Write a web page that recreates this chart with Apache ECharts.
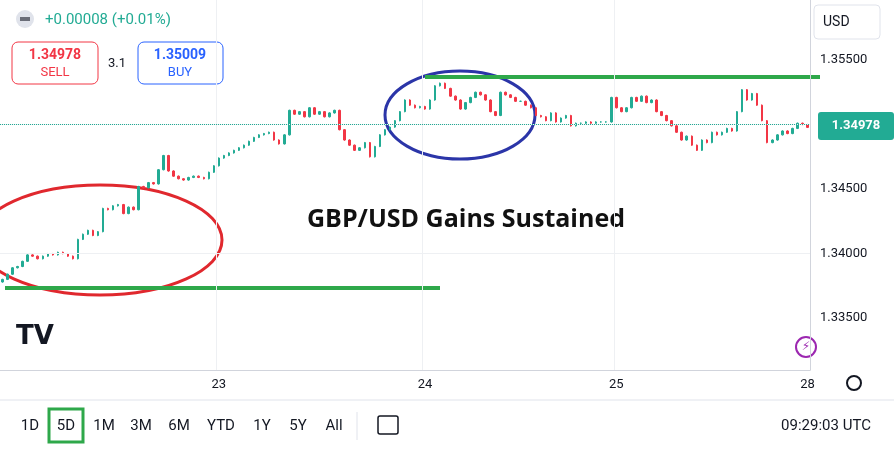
<!DOCTYPE html>
<html><head><meta charset="utf-8">
<script src="https://cdn.jsdelivr.net/npm/echarts@6/dist/echarts.min.js"></script>
<style>html,body{margin:0;padding:0;background:#fff}#c{width:894px;height:450px}</style>
</head><body><div id="c"></div>
<script>
const firstOpen = 1.3378;
const closes = [1.3380,1.3384,1.3389,1.3390,1.3394,1.3399,1.3398,1.3396,1.3398,1.3400,
1.3399,1.3401,1.3400,1.3398,1.3396,1.3411,1.3415,1.3418,1.3414,1.3417,
1.3435,1.3434,1.3437,1.3438,1.3431,1.3436,1.3434,1.3452,1.3451,1.3455,
1.3454,1.3465,1.3476,1.3464,1.3460,1.3458,1.3457,1.3459,1.3460,1.3459,
1.3458,1.3463,1.3468,1.3474,1.3476,1.3478,1.3480,1.3482,1.3484,1.3487,
1.3490,1.3492,1.3493,1.3494,1.3488,1.3485,1.3492,1.3511,1.3508,1.3510,
1.3506,1.3513,1.3508,1.3510,1.3506,1.3509,1.3511,1.3496,1.3488,1.3484,
1.3480,1.3482,1.3486,1.3475,1.3483,1.3492,1.3496,1.3498,1.3503,1.3510,
1.3519,1.3515,1.3513,1.3514,1.3512,1.3519,1.3530,1.3532,1.3528,1.3522,
1.3519,1.3512,1.3517,1.3521,1.3525,1.3523,1.3519,1.3510,1.3507,1.3525,
1.3523,1.3521,1.3518,1.3518,1.3515,1.3513,1.3507,1.3506,1.3503,1.3509,
1.3502,1.3505,1.3507,1.3499,1.3501,1.3501,1.3502,1.3501,1.3502,1.3502,
1.3502,1.3521,1.3513,1.3510,1.3513,1.3521,1.3518,1.3522,1.3517,1.3519,
1.3510,1.3507,1.3503,1.3499,1.3494,1.3488,1.3491,1.3484,1.3480,1.3488,
1.3486,1.3494,1.3492,1.3494,1.3497,1.3495,1.3510,1.3527,1.3519,1.3524,
1.3515,1.3503,1.3486,1.3488,1.3492,1.3495,1.3493,1.3497,1.3501,1.3500,1.34978];
const dayLabels = {43:'23', 84:'24', 122:'25', 160:'28'};
const priceTicks = [1.335,1.340,1.345,1.350,1.355];
const shownPriceLabels = [1.335,1.340,1.345,1.355];
const lastPrice = 1.34978;

const cats = closes.map((c,i)=>String(i));
const ohlc = closes.map((c,i)=>{
  const o = i===0 ? firstOpen : closes[i-1];
  return [o, c, Math.min(o,c)-0.00005, Math.max(o,c)+0.00005];
});
const G='#22ab94', R='#f23645';
const chart = echarts.init(document.getElementById('c'));
const F = 'Roboto, "Noto Sans", sans-serif';
chart.setOption({
  animation:false,
  grid:{left:0,right:84,top:0,bottom:80},
  xAxis:{type:'category',data:cats,boundaryGap:true,
    axisLine:{lineStyle:{color:'#d1d4dc'}},axisTick:{show:false},
    axisLabel:{color:'#131722',fontSize:13,fontFamily:F,margin:8,
      interval:(i)=>dayLabels[i]!==undefined, formatter:(v)=>dayLabels[v]||''},
    splitLine:{show:true,interval:(i)=>dayLabels[i]!==undefined&&i!==160,lineStyle:{color:'#eef0f3'}}},
  yAxis:{type:'value',position:'right',min:1.33098,max:1.35965,scale:true,
    axisLine:{show:true,lineStyle:{color:'#d1d4dc'}},axisTick:{show:false},splitLine:{show:false},
    axisLabel:{customValues:shownPriceLabels,color:'#131722',fontSize:13,fontFamily:F,margin:10,formatter:(v)=>v.toFixed(5)}},
  series:[{type:'candlestick',data:ohlc,barWidth:2,
    itemStyle:{color:G,color0:R,borderColor:G,borderColor0:R,borderWidth:1},
    markLine:{silent:true,symbol:'none',label:{show:false},
      data:[...priceTicks.map(p=>({yAxis:p,lineStyle:{color:'#eef0f3',type:'solid',width:1}})),
        {yAxis:lastPrice,lineStyle:{color:'#22ab94',type:'dotted',width:1}}]}}],
  graphic:[
    {type:'ellipse',shape:{cx:100,cy:240,rx:122,ry:55},style:{fill:'none',stroke:'#e0282e',lineWidth:3}},
    {type:'ellipse',shape:{cx:460,cy:115,rx:75,ry:44},style:{fill:'none',stroke:'#2b35a8',lineWidth:3}},
    {type:'line',shape:{x1:5,y1:288,x2:440,y2:288},style:{stroke:'#2ea84a',lineWidth:4}},
    {type:'line',shape:{x1:425,y1:77,x2:820,y2:77},style:{stroke:'#2ea84a',lineWidth:4}},
    {type:'text',x:466,y:220,style:{text:'GBP/USD Gains Sustained',font:'bold 25px "Open Sans", sans-serif',fill:'#111',align:'center',verticalAlign:'middle'}},
    {type:'rect',shape:{x:818,y:112,width:76,height:28,r:3},style:{fill:'#22ab94'}},
    {type:'text',x:856,y:126,style:{text:'1.34978',font:'bold 13px '+F,fill:'#fff',align:'center',verticalAlign:'middle'}},
    {type:'circle',shape:{cx:25,cy:19,r:9},style:{fill:'#e0e3eb'}},
    {type:'rect',shape:{x:20,y:17,width:10,height:4},style:{fill:'#6a6d78'}},
    {type:'text',x:45,y:20,style:{text:'+0.00008 (+0.01%)',font:'15px '+F,fill:'#22ab94',verticalAlign:'middle'}},
    {type:'rect',shape:{x:12,y:42,width:86,height:42,r:6},style:{fill:'#fff',stroke:'#f23645',lineWidth:1}},
    {type:'text',x:55,y:55,style:{text:'1.34978',font:'bold 14px '+F,fill:'#f23645',align:'center',verticalAlign:'middle'}},
    {type:'text',x:55,y:73,style:{text:'SELL',font:'13px '+F,fill:'#f23645',align:'center',verticalAlign:'middle'}},
    {type:'text',x:117,y:64,style:{text:'3.1',font:'13px '+F,fill:'#131722',align:'center',verticalAlign:'middle'}},
    {type:'rect',shape:{x:138,y:42,width:85,height:42,r:6},style:{fill:'#fff',stroke:'#2962ff',lineWidth:1}},
    {type:'text',x:180,y:55,style:{text:'1.35009',font:'bold 14px '+F,fill:'#2962ff',align:'center',verticalAlign:'middle'}},
    {type:'text',x:180,y:73,style:{text:'BUY',font:'13px '+F,fill:'#2962ff',align:'center',verticalAlign:'middle'}},
    {type:'rect',shape:{x:814,y:5,width:66,height:34,r:4},style:{fill:'#fff',stroke:'#e0e3eb'}},
    {type:'text',x:823,y:22,style:{text:'USD',font:'14px '+F,fill:'#131722',verticalAlign:'middle'}},
    {type:'text',x:35,y:337,style:{text:'TV',font:'bold 26px "DejaVu Sans", sans-serif',fill:'#131722',align:'center',verticalAlign:'middle'}},
    {type:'circle',shape:{cx:806,cy:347,r:10},style:{fill:'#fff',stroke:'#9c27b0',lineWidth:2}},
    {type:'text',x:806,y:347,style:{text:'⚡',font:'12px "DejaVu Sans"',fill:'#9c27b0',align:'center',verticalAlign:'middle'}},
    {type:'circle',shape:{cx:854,cy:383,r:7},style:{fill:'none',stroke:'#131722',lineWidth:2}},
    {type:'line',shape:{x1:0,y1:400,x2:894,y2:400},style:{stroke:'#e0e3eb',lineWidth:1}},
    ...['1D','5D','1M','3M','6M','YTD','1Y','5Y','All'].map((t,i)=>({type:'text',x:[30,66,104,141,179,221,262,298,334][i],y:426,
      style:{text:t,font:'15px '+F,fill:'#131722',align:'center',verticalAlign:'middle'}})),
    {type:'rect',shape:{x:49,y:409,width:34,height:33},style:{fill:'none',stroke:'#2ea84a',lineWidth:3}},
    {type:'line',shape:{x1:357,y1:412,x2:357,y2:440},style:{stroke:'#e0e3eb'}},
    {type:'rect',shape:{x:378,y:416,width:20,height:18,r:2},style:{fill:'none',stroke:'#131722',lineWidth:1.5}},
    {type:'text',x:826,y:426,style:{text:'09:29:03 UTC',font:'15px '+F,fill:'#131722',align:'center',verticalAlign:'middle'}}
  ]
});
</script></body></html>
